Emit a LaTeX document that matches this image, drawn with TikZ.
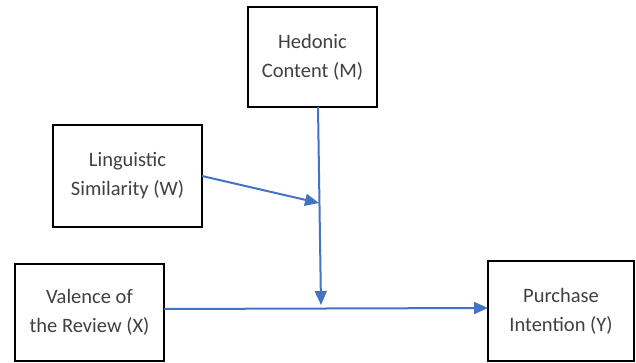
\documentclass[tikz,border=0pt]{standalone}
\usepackage{fontspec}
\setmainfont{Carlito}
\usetikzlibrary{arrows.meta}
\definecolor{linkblue}{RGB}{68,114,196}
\definecolor{txtgray}{RGB}{64,64,64}
\begin{document}
\begin{tikzpicture}[x=1pt,y=-1pt,
  box/.style={draw=black,line width=1.5pt,fill=white,inner sep=0pt,align=center,
    text=txtgray,font=\fontsize{20.5}{29}\selectfont},
  link/.style={draw=linkblue,line width=2pt,-{Triangle[length=14pt,width=12pt]}}]
\useasboundingbox (0,0) rectangle (636,363);
\node[box,minimum width=129pt,minimum height=100pt] (M) at (312.5,57) {Hedonic\\Content (M)};
\node[box,minimum width=149pt,minimum height=102pt] (W) at (127.5,176) {Linguistic\\Similarity (W)};
\node[box,minimum width=149pt,minimum height=97pt] (X) at (89.5,312.5) {Valence of\\the Review (X)};
\node[box,minimum width=146pt,minimum height=100pt] (Y) at (561,311) {Purchase\\Intention (Y)};
\coordinate (Mout) at (318,107);
\coordinate (Wout) at (202,176);
\coordinate (Xout) at (164,309);
\coordinate (mod) at (319,203);
\coordinate (tipM) at (321,305);
\coordinate (Yin) at (488,308);
\draw[link] (Mout) -- (tipM);
\draw[link] (Wout) -- (mod);
\draw[link] (Xout) -- (Yin);
\end{tikzpicture}
\end{document}
